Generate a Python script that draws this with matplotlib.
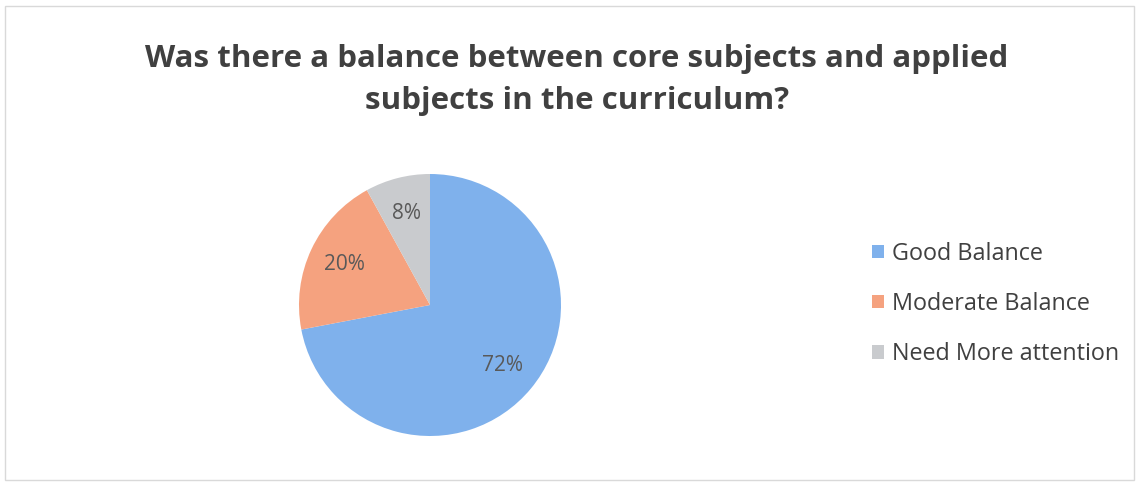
import matplotlib.pyplot as plt
from matplotlib.patches import Rectangle

# data
labels = ['Good Balance', 'Moderate Balance', 'Need More attention']
shares = [72, 20, 8]
colors = ['#7fb1ec', '#f5a27f', '#c9cbce']
title = 'Was there a balance between core subjects and applied\nsubjects in the curriculum?'

W, H = 1139, 483
fig = plt.figure(figsize=(W / 100, H / 100), dpi=100)
fig.patch.set_facecolor('white')

# light frame around the chart area
fig.patches.append(Rectangle((5 / W, 3 / H), 1 - 10 / W, 1 - 9 / H, transform=fig.transFigure,
                             fill=False, edgecolor='#d9d9d9', linewidth=1))

fig.text(577 / W, 1 - 80 / H, title, ha='center', va='center', fontsize=22.5,
         fontweight='bold', color='#404040', family='Open Sans', linespacing=1.55)

cx, cy, r = 430, 305, 131
ax = fig.add_axes([(cx - r) / W, (H - cy - r) / H, 2 * r / W, 2 * r / H])
wedges, texts, autotexts = ax.pie(shares, colors=colors, startangle=90, counterclock=False,
                                  autopct='%d%%', pctdistance=0.72,
                                  wedgeprops=dict(linewidth=0),
                                  textprops=dict(color='#595959', fontsize=15, family='Open Sans'))
ax.set_aspect('equal')
ax.set_xlim(-1, 1)
ax.set_ylim(-1, 1)

fig.legend(wedges, labels, loc='center left', bbox_to_anchor=(851 / W, 1 - 304 / H),
           frameon=False, handlelength=0.5, handleheight=0.5,
           handletextpad=0.35, labelspacing=1.12, labelcolor='#404040',
           prop=dict(family='Open Sans', size=16.8))

fig.savefig('out.png', dpi=100, facecolor='white')
